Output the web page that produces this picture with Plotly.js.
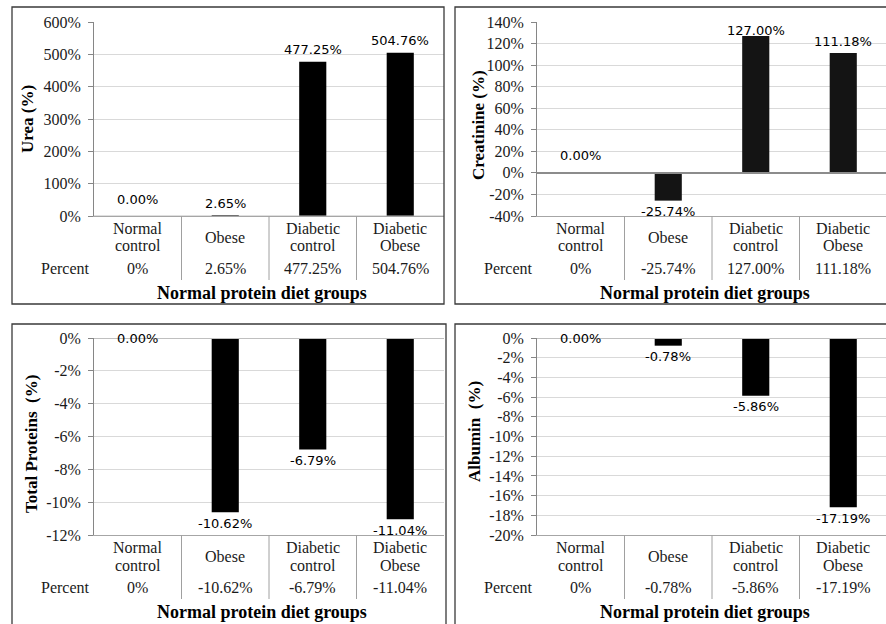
<!DOCTYPE html>
<html>
<head>
<meta charset="utf-8">
<script src="https://cdn.plot.ly/plotly-3.0.1.min.js"></script>
<style>html,body{margin:0;padding:0;background:#fff;}#chart{width:886px;height:624px;}</style>
</head>
<body>
<div id="chart"></div>
<script>
// ---------------- data ----------------
const categories = ['Normal control', 'Obese', 'Diabetic control', 'Diabetic Obese'];
const categoryLines = [['Normal', 'control'], ['Obese'], ['Diabetic', 'control'], ['Diabetic', 'Obese']];
const urea = [0, 2.65, 477.25, 504.76];
const creatinine = [0, -25.74, 127.00, 111.18];
const totalProteins = [0, -10.62, -6.79, -11.04];
const albumin = [0, -0.78, -5.86, -17.19];
const yTitles = ['Urea (%)', 'Creatinine (%)', 'Total Proteins\u00a0\u00a0(%)', 'Albumin\u00a0\u00a0(%)'];
const xTitle = 'Normal protein diet groups';
const rowLabel = 'Percent';
const yRanges = [[0, 600], [-40, 140], [-12, 0], [-20, 0]];
const yDticks = [100, 20, 2, 2];

// ---------------- layout helpers ----------------
const W = 886, H = 624;
const fx = px => px / W;
const fy = py => 1 - py / H;
const serif = '"Liberation Serif", "Times New Roman", serif';
const sans = '"DejaVu Sans", sans-serif';

const panels = [
  {data: urea, left: 94, right: 444, top: 22, bottom: 216, frame: [12, 7, 444, 304], tX: 27, tY: 119, zeroShift: 17, color: '#000000', rowX: 65},
  {data: creatinine, left: 537, right: 886, top: 22, bottom: 216, frame: [455, 7, 892, 304], tX: 479, tY: 125, zeroShift: 17, color: '#141414', rowX: 508},
  {data: totalProteins, left: 94, right: 444, top: 338, bottom: 535, frame: [12, 324, 446, 630], tX: 31, tY: 444, zeroShift: 0, color: '#000000', rowX: 65},
  {data: albumin, left: 537, right: 886, top: 338, bottom: 535, frame: [455, 324, 892, 630], tX: 474, tY: 432, zeroShift: 0, color: '#000000', rowX: 508}
];

const fmtLabel = v => v.toFixed(2) + '%';
const fmtRow = v => (v === 0 ? '0%' : v.toFixed(2) + '%');

const traces = [];
const layout = {
  width: W, height: H,
  margin: {l: 0, r: 0, t: 0, b: 0},
  paper_bgcolor: '#ffffff', plot_bgcolor: '#ffffff',
  showlegend: false,
  annotations: [], shapes: []
};

panels.forEach((p, i) => {
  const n = i + 1;
  const xa = 'xaxis' + (n === 1 ? '' : n), ya = 'yaxis' + (n === 1 ? '' : n);
  const xr = 'x' + (n === 1 ? '' : n), yr = 'y' + (n === 1 ? '' : n);
  const rng = yRanges[i], dt = yDticks[i];
  const xs = categories.map((c, k) => k);
  const catW = 87.5;
  const xMax = -0.5 + (p.right - p.left) / catW;

  traces.push({
    type: 'bar', x: xs, y: p.data, xaxis: xr, yaxis: yr,
    marker: {color: p.color, line: {width: 0}}, width: 0.31,
    hoverinfo: 'skip'
  });

  const tv = [];
  for (let v = rng[0]; v <= rng[1] + 1e-9; v += dt) tv.push(v);

  layout[xa] = {
    domain: [fx(p.left), Math.min(1, fx(p.right))], range: [-0.5, xMax],
    anchor: yr, showgrid: false, zeroline: false, showticklabels: false,
    showline: true, linecolor: '#a6a6a6', linewidth: 1, ticks: '', fixedrange: true
  };
  layout[ya] = {
    domain: [fy(p.bottom), fy(p.top)], range: rng, anchor: xr,
    tickmode: 'array', tickvals: tv, ticktext: tv.map(v => v + '%'),
    showgrid: true, gridcolor: '#d9d9d9', gridwidth: 1, zeroline: false,
    showline: true, linecolor: '#868686', linewidth: 1,
    ticks: 'outside', ticklen: 5, tickcolor: '#868686', ticklabelstandoff: 4,
    tickfont: {family: serif, size: 16, color: '#1a1a1a'}, fixedrange: true
  };

  // zero line
  layout.shapes.push({type: 'line', xref: 'paper', yref: yr, x0: fx(p.left), x1: fx(p.right), y0: 0, y1: 0,
    line: {color: (i === 1 ? '#8c8c8c' : '#bfbfbf'), width: (i === 0 ? 1 : 2)}, layer: 'above'});

  // frame
  layout.shapes.push({type: 'rect', xref: 'paper', yref: 'paper',
    x0: fx(p.frame[0]), x1: fx(p.frame[2]), y0: fy(p.frame[3]), y1: fy(p.frame[1]),
    line: {color: '#3a3a3a', width: 1.3}, fillcolor: 'rgba(0,0,0,0)'});

  // table separators
  for (let k = 0; k < categories.length - 1; k++) {
    layout.shapes.push({type: 'line', xref: xr, yref: 'paper', x0: k + 0.5, x1: k + 0.5,
      y0: fy(p.bottom), y1: fy(p.bottom + 64), line: {color: '#a0a0a0', width: 1}});
  }

  // data labels
  const pxPerUnit = (p.bottom - p.top) / (rng[1] - rng[0]);
  p.data.forEach((v, k) => {
    let shift;
    if (v === 0) shift = p.zeroShift;
    else if (v > 0) shift = 12;
    else shift = -11;
    const py = p.top + (rng[1] - v) * pxPerUnit;
    if (v > 0 && py - shift < p.top + 9) shift = py - (p.top + 9);
    layout.annotations.push({xref: xr, yref: yr, x: k, y: v, yshift: shift,
      text: fmtLabel(v), showarrow: false, xanchor: 'center', yanchor: 'middle',
      font: {family: sans, size: 13, color: '#000'}});
  });

  // category labels and percent row
  categoryLines.forEach((lines, k) => {
    const ys = lines.length === 2 ? [p.bottom + 12, p.bottom + 30] : [p.bottom + 21];
    lines.forEach((t, j) => {
      layout.annotations.push({xref: xr, yref: 'paper', x: k, y: fy(ys[j]), text: t,
        showarrow: false, xanchor: 'center', yanchor: 'middle',
        font: {family: serif, size: 16, color: '#1a1a1a'}});
    });
    layout.annotations.push({xref: xr, yref: 'paper', x: k, y: fy(p.bottom + 52), text: fmtRow(p.data[k]),
      showarrow: false, xanchor: 'center', yanchor: 'middle',
      font: {family: serif, size: 16, color: '#1a1a1a'}});
  });
  layout.annotations.push({xref: 'paper', yref: 'paper', x: fx(p.rowX), y: fy(p.bottom + 52), text: rowLabel,
    showarrow: false, xanchor: 'center', yanchor: 'middle',
    font: {family: serif, size: 16, color: '#1a1a1a'}});

  // x title
  layout.annotations.push({xref: 'paper', yref: 'paper', x: fx(p.left + 168), y: fy(p.bottom + 77),
    text: '<b>' + xTitle + '</b>', showarrow: false, xanchor: 'center', yanchor: 'middle',
    font: {family: serif, size: 18, color: '#000'}});

  // y title
  layout.annotations.push({xref: 'paper', yref: 'paper', x: fx(p.tX), y: fy(p.tY),
    text: '<b>' + yTitles[i] + '</b>', textangle: -90, showarrow: false, xanchor: 'center', yanchor: 'middle',
    font: {family: serif, size: 17, color: '#000'}});
});

Plotly.newPlot('chart', traces, layout, {displayModeBar: false, staticPlot: true});
</script>
</body>
</html>
